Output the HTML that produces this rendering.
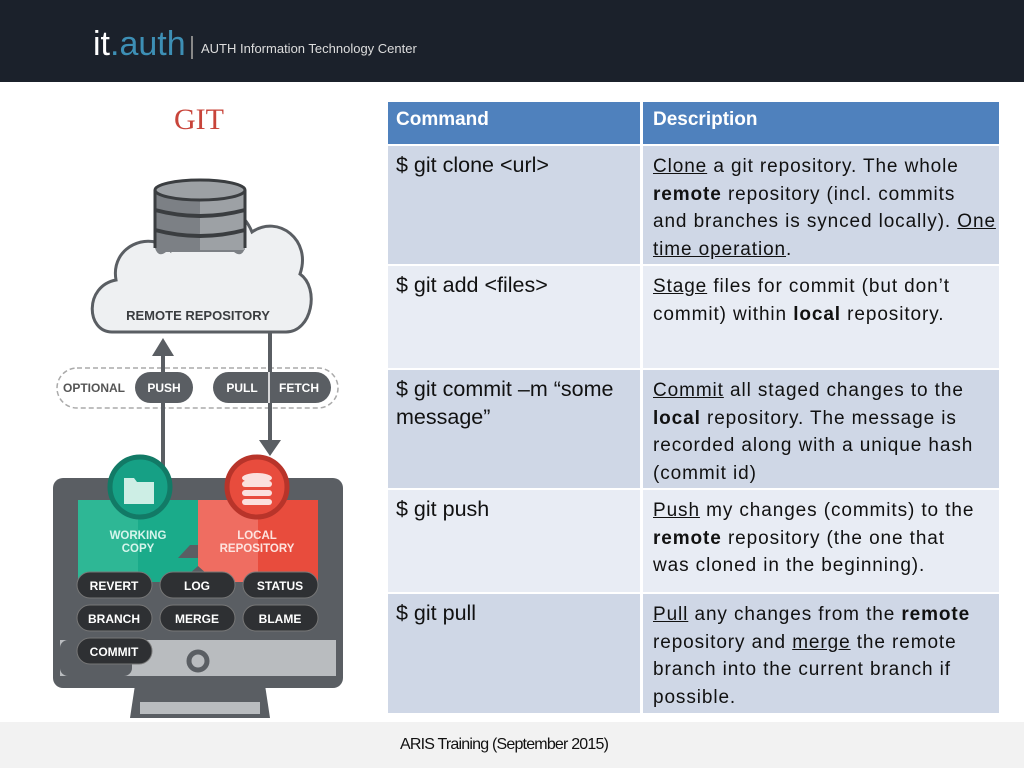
<!DOCTYPE html>
<html><head><meta charset="utf-8"><style>
body{margin:0;width:1024px;height:768px;position:relative;background:#fff;overflow:hidden;font-family:"Liberation Sans",sans-serif}
.hdr{position:absolute;left:0;top:0;width:1024px;height:82px;background:#1b212b}
.foot{position:absolute;left:0;top:722px;width:1024px;height:46px;background:#f2f2f2}
.c{position:absolute;box-sizing:border-box;padding:6px 8px 0 8px}
.cmd{font-size:21.5px;color:#111;line-height:28px;padding-top:5px}
.desc{font-size:19px;color:#111;line-height:27.6px;padding-left:10px;padding-top:7px;letter-spacing:0.9px;white-space:nowrap}
.h{background:#4f81bd;color:#fff;font-weight:bold;font-size:19px;padding-top:7px}
.d{background:#cfd7e6}.l{background:#e8ecf4}
u{text-decoration:underline}
</style></head><body>
<div class="hdr"></div>
<div style="position:absolute;left:93px;top:22px;font-size:34px;color:#fff;line-height:44px">it<span style="color:#3d8fb5">.auth</span></div>
<div style="position:absolute;left:191px;top:36px;width:2px;height:23px;background:#888"></div>
<div style="position:absolute;left:201px;top:41px;font-size:13px;color:#ddd">AUTH Information Technology Center</div>
<div class="foot"></div>
<div style="position:absolute;left:400px;top:736px;font-size:16px;color:#111;letter-spacing:-0.8px">ARIS Training (September 2015)</div>

<svg style="position:absolute;left:0;top:0" width="380" height="722" viewBox="0 0 380 722">
<text x="199" y="129" text-anchor="middle" font-family="Liberation Serif" font-size="30" fill="#c8443a">GIT</text>
<!-- cloud -->
<path d="M112 332 C86 332 84 286 116 280 C110 246 150 230 170 250 C175 200 235 190 252 232 C278 214 312 240 300 274 C320 288 312 332 286 332 Z" fill="#eef0f2" stroke="#5a5e63" stroke-width="3"/>
<!-- db -->
<path d="M155 190 V248 Q158 258 166 252 H234 Q242 258 245 248 V190 Z" fill="#7c8085"/>
<rect x="200" y="190" width="45" height="60" fill="#9da1a5"/>
<ellipse cx="200" cy="190" rx="45" ry="10" fill="#9da1a5" stroke="#3a3d40" stroke-width="3"/>
<path d="M155 190 V248 M245 190 V248" stroke="#3a3d40" stroke-width="3"/>
<path d="M155 210 Q200 222 245 210 M155 230 Q200 242 245 230" stroke="#3a3d40" stroke-width="4" fill="none"/>
<text x="198" y="320" text-anchor="middle" font-size="13" font-weight="bold" fill="#3a3d40">REMOTE REPOSITORY</text>
<!-- dashed pill -->
<rect x="57" y="368" width="281" height="40" rx="20" fill="#fff" stroke="#aaa" stroke-dasharray="5 3" stroke-width="1.5"/>
<!-- arrows -->
<path d="M163 395 V352" stroke="#5a5e63" stroke-width="4"/>
<path d="M152 356 L163 338 L174 356 Z" fill="#5a5e63"/>
<path d="M270 333 V440" stroke="#5a5e63" stroke-width="4"/>
<path d="M259 440 L270 456 L281 440 Z" fill="#5a5e63"/>
<text x="63" y="392" font-size="12" font-weight="bold" fill="#555">OPTIONAL</text>
<rect x="135" y="372" width="58" height="31" rx="15.5" fill="#5a5e63"/>
<text x="164" y="392" text-anchor="middle" font-size="12" font-weight="bold" fill="#fff">PUSH</text>
<rect x="213" y="372" width="118" height="31" rx="15.5" fill="#5a5e63"/>
<line x1="269" y1="372" x2="269" y2="403" stroke="#fff" stroke-width="1.5"/>
<text x="242" y="392" text-anchor="middle" font-size="12" font-weight="bold" fill="#fff">PULL</text>
<text x="299" y="392" text-anchor="middle" font-size="12" font-weight="bold" fill="#fff">FETCH</text>
<path d="M163 400 V470" stroke="#5a5e63" stroke-width="4"/>
<path d="M270 405 V440" stroke="#5a5e63" stroke-width="4"/>
<!-- monitor -->
<path d="M135 685 L130 718 L270 718 L265 685 Z" fill="#5a5e63"/>
<rect x="140" y="702" width="120" height="12" fill="#b9bcbf"/>
<rect x="53" y="478" width="290" height="210" rx="10" fill="#5a5e63"/>
<rect x="60" y="640" width="276" height="36" fill="#b9bcbf"/>
<rect x="60" y="640" width="72" height="36" rx="8" fill="#5a5e63"/>
<circle cx="198" cy="661" r="9" fill="none" stroke="#5a5e63" stroke-width="5"/>
<path d="M78 500 H198 V545 L190 545 L178 558 L198 558 V582 H78 Z" fill="#1aab8a"/>
<path d="M78 500 H138 V582 H78 Z" fill="#3cbf9d" opacity="0.6"/>
<path d="M198 500 H318 V582 H198 Z" fill="#e84c3d"/>
<path d="M198 500 H258 V582 H198 Z" fill="#ef6d61"/>
<path d="M180 582 L198 566 L216 582 Z" fill="#5a5e63"/>
<circle cx="140" cy="487" r="30" fill="#16a085" stroke="#127a66" stroke-width="5"/>
<path d="M124 478 h10 l3 4 h17 v22 h-30 Z" fill="#cdeee5"/>
<circle cx="257" cy="487" r="30" fill="#e84c3d" stroke="#b8342a" stroke-width="5"/>
<ellipse cx="257" cy="478" rx="15" ry="5" fill="#fbe0dd"/>
<rect x="242" y="481" width="30" height="6" rx="3" fill="#fbe0dd"/>
<rect x="242" y="490" width="30" height="6" rx="3" fill="#fbe0dd"/>
<rect x="242" y="499" width="30" height="6" rx="3" fill="#fbe0dd"/>
<text x="138" y="539" text-anchor="middle" font-size="11.5" font-weight="bold" fill="#d6f5ec">WORKING</text>
<text x="138" y="552" text-anchor="middle" font-size="11.5" font-weight="bold" fill="#d6f5ec">COPY</text>
<text x="257" y="539" text-anchor="middle" font-size="11.5" font-weight="bold" fill="#fde3df">LOCAL</text>
<text x="257" y="552" text-anchor="middle" font-size="11.5" font-weight="bold" fill="#fde3df">REPOSITORY</text>
<g font-size="12" font-weight="bold" fill="#fff" text-anchor="middle">
<rect x="77" y="572" width="75" height="26" rx="13" fill="#2e3033" stroke="#777" stroke-width="1"/>
<rect x="160" y="572" width="75" height="26" rx="13" fill="#2e3033" stroke="#777" stroke-width="1"/>
<rect x="243" y="572" width="75" height="26" rx="13" fill="#2e3033" stroke="#777" stroke-width="1"/>
<rect x="77" y="605" width="75" height="26" rx="13" fill="#2e3033" stroke="#777" stroke-width="1"/>
<rect x="160" y="605" width="75" height="26" rx="13" fill="#2e3033" stroke="#777" stroke-width="1"/>
<rect x="243" y="605" width="75" height="26" rx="13" fill="#2e3033" stroke="#777" stroke-width="1"/>
<rect x="77" y="638" width="75" height="26" rx="13" fill="#2e3033" stroke="#777" stroke-width="1"/>
<text x="114" y="590">REVERT</text><text x="197" y="590">LOG</text><text x="280" y="590">STATUS</text>
<text x="114" y="623">BRANCH</text><text x="197" y="623">MERGE</text><text x="280" y="623">BLAME</text>
<text x="114" y="656">COMMIT</text>
</g>
</svg>

<div class="c h" style="left:388px;top:102px;width:252px;height:42px">Command</div>
<div class="c h" style="left:643px;top:102px;width:356px;height:42px;padding-left:10px">Description</div>

<div class="c cmd d" style="left:388px;top:146px;width:252px;height:118px">$ git clone &lt;url&gt;</div>
<div class="c desc d" style="left:643px;top:146px;width:356px;height:118px"><u>Clone</u> a git repository. The whole<br><b>remote</b> repository (incl. commits<br>and branches is synced locally). <u>One</u><br><u>time operation</u>.</div>

<div class="c cmd l" style="left:388px;top:266px;width:252px;height:102px">$ git add &lt;files&gt;</div>
<div class="c desc l" style="left:643px;top:266px;width:356px;height:102px"><u>Stage</u> files for commit (but don’t<br>commit) within <b>local</b> repository.</div>

<div class="c cmd d" style="left:388px;top:370px;width:252px;height:118px">$ git commit –m “some<br>message”</div>
<div class="c desc d" style="left:643px;top:370px;width:356px;height:118px"><u>Commit</u> all staged changes to the<br><b>local</b> repository. The message is<br>recorded along with a unique hash<br>(commit id)</div>

<div class="c cmd l" style="left:388px;top:490px;width:252px;height:102px">$ git push</div>
<div class="c desc l" style="left:643px;top:490px;width:356px;height:102px"><u>Push</u> my changes (commits) to the<br><b>remote</b> repository (the one that<br>was cloned in the beginning).</div>

<div class="c cmd d" style="left:388px;top:594px;width:252px;height:119px">$ git pull</div>
<div class="c desc d" style="left:643px;top:594px;width:356px;height:119px"><u>Pull</u> any changes from the <b>remote</b><br>repository and <u>merge</u> the remote<br>branch into the current branch if<br>possible.</div>
</body></html>
